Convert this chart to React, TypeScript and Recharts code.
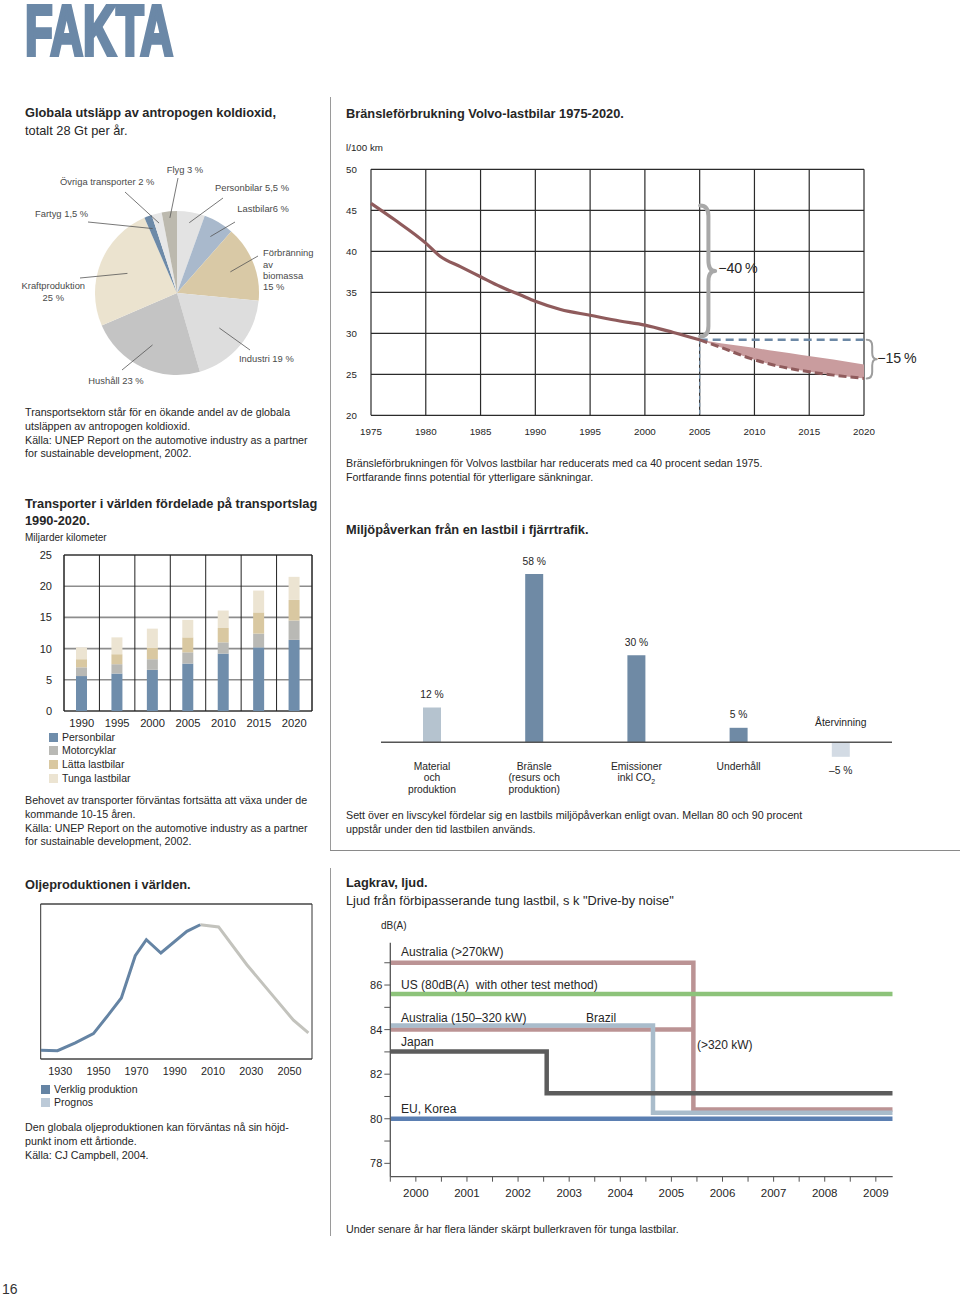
import React from "react"
import {
  PieChart, Pie, Cell, BarChart, Bar, XAxis, YAxis, CartesianGrid, ReferenceArea,
  ReferenceLine, ReferenceDot, LineChart, Line, ComposedChart, Area, LabelList,
} from "recharts"

const FONT = '"Liberation Sans", Arial, Helvetica, sans-serif'
const INK = "#262626"
const RADIAN = Math.PI / 180

// ---- Globala utsläpp av antropogen koldioxid (pie) ----
const pieNames = ["Personbilar", "Lastbilar", "Förbränning av biomassa", "Industri", "Hushåll", "Kraftproduktion", "Fartyg", "Övriga transporter", "Flyg"]
const pieValues = [5.5, 6, 15, 19, 23, 25, 1.5, 2, 3]
const pieColors = ["#e3e3e3", "#a9b9cc", "#d9c9a6", "#dddddd", "#c4c4c4", "#ebe3cf", "#6d8aa8", "#e7e7e7", "#bcb9ae"]
const pieLabelLines = [
  ["Personbilar 5,5 %"], ["Lastbilar6 %"], ["Förbränning", "av", "biomassa", "15 %"], ["Industri 19 %"],
  ["Hushåll 23 %"], ["Kraftproduktion", "25 %"], ["Fartyg 1,5 %"], ["Övriga transporter 2 %"], ["Flyg 3 %"],
]
// leader line: depth into slice (share of radius), outer end, text anchor
const pieLeaderDepth = [0.87, 0.8, 0.7, 0.67, 0.7, 0.65, 0.84, 0.88, 0.92]
const pieLeaderEnd = [[223, 48], [235, 72], [258, 106], [250, 200], [122, 220], [80, 128], [88, 72], [125, 42], [178, 28]]
const pieTextPos: [number, number, "start" | "middle"][] = [
  [215, 37.3, "start"], [237.3, 58.7, "start"], [263, 103, "start"], [239, 208.3, "start"], [88.3, 230.7, "start"],
  [53.3, 136, "middle"], [35, 63.3, "start"], [60, 31.7, "start"], [166.7, 20, "start"],
]

// ---- Transporter i världen ----
const transportYears = ["1990", "1995", "2000", "2005", "2010", "2015", "2020"]
const personbilar = [5.6, 6.0, 6.6, 7.6, 9.2, 10.2, 11.4]
const motorcyklar = [1.4, 1.5, 1.7, 1.8, 1.8, 2.2, 3.1]
const lattaLastbilar = [1.3, 1.6, 1.8, 2.4, 2.3, 3.4, 3.3]
const tungaLastbilar = [1.9, 2.7, 3.1, 2.8, 2.8, 3.5, 3.7]
const transportTicks = [0, 5, 10, 15, 20, 25]
const transportNames = ["Personbilar", "Motorcyklar", "Lätta lastbilar", "Tunga lastbilar"]
const transportColors = ["#6f8dab", "#b9b9b5", "#d9c8a1", "#ece4d2"]

// ---- Oljeproduktionen ----
const oilActualYears = [1919.8, 1928.6, 1937.9, 1947.4, 1955.3, 1962.0, 1969.3, 1975.1, 1982.7, 1996.3, 2003.3]
const oilActual = [0.28, 0.27, 0.52, 0.82, 1.43, 1.97, 3.33, 3.85, 3.42, 4.12, 4.33]
const oilPrognosYears = [2003.3, 2012.9, 2027.7, 2041.6, 2052.1, 2059.9]
const oilPrognos = [4.33, 4.26, 3.04, 2.02, 1.25, 0.84]
const oilTicks = [1930, 1950, 1970, 1990, 2010, 2030, 2050]

// ---- Bränsleförbrukning Volvo ----
const fuelYears = [1975, 1977.1, 1980, 1981.3, 1983.2, 1985, 1986.8, 1988.6, 1990, 1992.3, 1995, 1997.7, 2000, 2002.6, 2005]
const fuel = [45.85, 43.9, 41.0, 39.4, 38.1, 36.9, 35.7, 34.7, 33.9, 32.9, 32.2, 31.5, 31.0, 30.1, 29.2]
const fuelGoalYears = [2005, 2006.9, 2009.6, 2012, 2014.3, 2017.2, 2020]
const fuelGoal = [29.2, 28.3, 26.95, 26.05, 25.45, 24.9, 24.5]
const fuelGoalUpper = [29.2, 28.8, 28.3, 27.8, 27.35, 26.8, 26.2]
const fuelXTicks = [1975, 1980, 1985, 1990, 1995, 2000, 2005, 2010, 2015, 2020]
const fuelYTicks = [20, 25, 30, 35, 40, 45, 50]

// ---- Miljöpåverkan ----
const impactNames = ["Material och produktion", "Bränsle (resurs och produktion)", "Emissioner inkl CO2", "Underhåll", "Återvinning"]
const impactValues = [12, 58, 30, 5, -5]
const impactLabelLines = [["Material", "och", "produktion"], ["Bränsle", "(resurs och", "produktion)"], ["Emissioner", "inkl CO2"], ["Underhåll"], ["Återvinning"]]
const impactColors = ["#b5c3cf", "#6f8aa5", "#6f8aa5", "#6f8aa5", "#d3dbe4"]

// ---- Lagkrav, ljud ----
const ausHighYears = [1999.5, 2005.43, 2009.33]
const ausHigh = [87, 80.42, 80.42]
const ausMidYears = [1999.5, 2005.43]
const ausMid = [84, 84]
const brazilYears = [1999.5, 2004.64, 2009.33]
const brazil = [84.18, 80.27, 80.27]
const japanYears = [1999.5, 2002.56, 2009.33]
const japan = [83.02, 81.14, 81.14]
const usYears = [1999.5, 2009.33]
const us = [85.6, 85.6]
const euYears = [1999.5, 2009.33]
const eu = [80, 80]
const noiseXTicks = [1999.5, 2000, 2000.5, 2001, 2001.5, 2002, 2002.5, 2003, 2003.5, 2004, 2004.5, 2005, 2005.5, 2006, 2006.5, 2007, 2007.5, 2008, 2008.5, 2009]
const noiseYTicks = [78, 79, 80, 81, 82, 83, 84, 85, 86, 87]

const toRows = (xs: number[], ys: number[]) => xs.map((year, i) => ({ year, value: ys[i] }))

const Txt = ({ x, y, size = 10.7, lh = 13.7, bold = false, color = INK, lines }: { x: number; y: number; size?: number; lh?: number; bold?: boolean; color?: string; lines: string[] }) => (
  <div style={{ position: "absolute", left: x, top: y - lh / 2, fontSize: size, lineHeight: `${lh}px`, fontWeight: bold ? 700 : 400, color, whiteSpace: "pre", fontFamily: FONT }}>
    {lines.map((l, i) => <div key={i}>{l}</div>)}
  </div>
)

const Swatch = ({ x, y, color, label }: { x: number; y: number; color: string; label: string }) => (
  <>
    <div style={{ position: "absolute", left: x, top: y - 4.5, width: 9, height: 9, background: color }} />
    <Txt x={x + 13} y={y} size={10.5} lh={13} lines={[label]} />
  </>
)

const renderPieLabel = (props: any) => {
  const { cx, cy, midAngle, outerRadius, index } = props
  const depth = pieLeaderDepth[index]
  const px = cx + outerRadius * depth * Math.cos(-midAngle * RADIAN)
  const py = cy + outerRadius * depth * Math.sin(-midAngle * RADIAN)
  const [ex, ey] = pieLeaderEnd[index]
  const [tx, ty, anchor] = pieTextPos[index]
  return (
    <g key={`pl-${index}`}>
      <line x1={px} y1={py} x2={ex} y2={ey} stroke="#555" strokeWidth={0.8} />
      <text x={tx} y={ty} textAnchor={anchor} fontSize={9.4} fill="#4a4a4a" fontFamily={FONT}>
        {pieLabelLines[index].map((l, i) => (
          <tspan key={i} x={tx} dy={i === 0 ? "0.35em" : 11.3}>{l}</tspan>
        ))}
      </text>
    </g>
  )
}

const renderImpactLabel = (props: any) => {
  const { x, y, width, height, index } = props
  const v = impactValues[index]
  const cx = x + width / 2
  const yTop = Math.min(y, y + height)
  const yBot = Math.max(y, y + height)
  const fmt = v < 0 ? `–${Math.abs(v)} %` : `${v} %`
  const lines = impactLabelLines[index]
  const common = { textAnchor: "middle" as const, fontSize: 10.3, fill: INK, fontFamily: FONT }
  if (v < 0) {
    return (
      <g>
        <text x={cx} y={yTop - 20} dy="0.35em" {...common}>{lines[0]}</text>
        <text x={cx} y={yBot + 14} dy="0.35em" {...common}>{fmt}</text>
      </g>
    )
  }
  return (
    <g>
      <text x={cx} y={yTop - 13} dy="0.35em" {...common}>{fmt}</text>
      {lines.map((l, i) => (
        <text key={i} x={cx} y={yBot + 24 + i * 11.5} dy="0.35em" {...common}>
          {l.endsWith("CO2") ? (<>{l.slice(0, -1)}<tspan dy={3} fontSize={7}>2</tspan></>) : l}
        </text>
      ))}
    </g>
  )
}

const braceShape = (w: number, sw: number, color: string, dx: number, label: string, labelDx: number, labelDy: number) => (p: any) => {
  const x = Math.min(p.x1, p.x2) + dx
  const top = Math.min(p.y1, p.y2)
  const bot = Math.max(p.y1, p.y2)
  const mid = (top + bot) / 2
  const v = x + w * 0.55
  const r = Math.min(w * 0.7, (bot - top) / 6)
  const d = `M${x},${top} Q${v},${top} ${v},${top + r} L${v},${mid - r} Q${v},${mid} ${x + w},${mid} Q${v},${mid} ${v},${mid + r} L${v},${bot - r} Q${v},${bot} ${x},${bot}`
  return (
    <g>
      <path d={d} fill="none" stroke={color} strokeWidth={sw} strokeLinecap="round" strokeLinejoin="round" />
      <text x={x + w + labelDx} y={mid + labelDy} dy="0.35em" fontSize={14.2} fill={INK} fontFamily={FONT}>{label}</text>
    </g>
  )
}

const FuelYTick = ({ y, payload }: any) => (
  <text x={6} y={y} dy="0.35em" fontSize={9.7} fill={INK} fontFamily={FONT}>{payload.value}</text>
)

const noiseLabel = (value: string) => ({ value, position: "right" as const, offset: 0, fontSize: 12, fill: INK, fontFamily: FONT })

export default function App() {
  const pieData = pieNames.map((name, i) => ({ name, value: pieValues[i] }))
  const transportData = transportYears.map((year, i) => ({
    year, personbilar: personbilar[i], motorcyklar: motorcyklar[i], latta: lattaLastbilar[i], tunga: tungaLastbilar[i],
  }))
  const impactData = impactNames.map((name, i) => ({ name, value: impactValues[i] }))
  const fuelData = toRows(fuelYears, fuel)
  const goalData = toRows(fuelGoalYears, fuelGoal)
  const bandData = fuelGoalYears.map((year, i) => ({ year, band: [fuelGoal[i], fuelGoalUpper[i]] }))
  const axisText = { fontSize: 11, fill: INK, fontFamily: FONT }

  return (
    <div style={{ position: "absolute", left: 0, top: 0, width: 960, height: 1296, background: "#fff", overflow: "hidden", fontFamily: FONT }}>
      {/* header */}
      <div style={{ position: "absolute", left: 25, top: 0, fontSize: 71, lineHeight: "62px", fontWeight: 700, color: "#6b88a7", WebkitTextStroke: "4px #6b88a7", transform: "scaleX(0.64)", transformOrigin: "0 0", whiteSpace: "pre" }}>FAKTA</div>

      {/* dividers */}
      <div style={{ position: "absolute", left: 330, top: 97, width: 1, height: 753, background: "#9a9a9a" }} />
      <div style={{ position: "absolute", left: 330, top: 850, width: 630, height: 1, background: "#8a8a8a" }} />
      <div style={{ position: "absolute", left: 330, top: 868, width: 1, height: 368, background: "#9a9a9a" }} />

      {/* pie */}
      <Txt x={25} y={113} size={12.8} lh={18} bold lines={["Globala utsläpp av antropogen koldioxid,"]} />
      <Txt x={25} y={131} size={12.8} lh={18} lines={["totalt 28 Gt per år."]} />
      <div style={{ position: "absolute", left: 0, top: 150 }}>
        <PieChart width={330} height={240} margin={{ top: 0, right: 0, bottom: 0, left: 0 }}>
          <Pie data={pieData} dataKey="value" cx={177} cy={143} outerRadius={82} startAngle={90} endAngle={-270}
            stroke="none" isAnimationActive={false} label={renderPieLabel} labelLine={false}>
            {pieData.map((d, i) => <Cell key={d.name} fill={pieColors[i]} />)}
          </Pie>
        </PieChart>
      </div>
      <Txt x={25} y={413} lines={[
        "Transportsektorn står för en ökande andel av de globala",
        "utsläppen av antropogen koldioxid.",
        "Källa: UNEP Report on the automotive industry as a partner",
        "for sustainable development, 2002.",
      ]} />

      {/* transport bars */}
      <Txt x={25} y={503} size={12.8} lh={17} bold lines={["Transporter i världen fördelade på transportslag", "1990-2020."]} />
      <Txt x={25} y={538} size={10} lines={["Miljarder kilometer"]} />
      <div style={{ position: "absolute", left: 20, top: 545 }}>
        <BarChart width={300} height={190} data={transportData} margin={{ top: 10, right: 8, bottom: 4, left: 4 }} barSize={11}>
          <CartesianGrid vertical={false} stroke="#8d8d8d" strokeWidth={1.6} />
          <CartesianGrid horizontal={false} stroke="#222" strokeWidth={1}
            verticalCoordinatesGenerator={({ offset }: any) => transportYears.concat("").map((_, i) => offset.left + (i * offset.width) / transportYears.length)} />
          <XAxis dataKey="year" tickLine={false} axisLine={false} height={20} interval={0} tick={{ ...axisText, fontSize: 11.2 }} />
          <YAxis width={40} domain={[0, 25]} ticks={transportTicks} tickLine={false} axisLine={false} tickMargin={6} tick={axisText} interval={0} />
          <Bar dataKey="personbilar" stackId="t" fill={transportColors[0]} isAnimationActive={false} />
          <Bar dataKey="motorcyklar" stackId="t" fill={transportColors[1]} isAnimationActive={false} />
          <Bar dataKey="latta" stackId="t" fill={transportColors[2]} isAnimationActive={false} />
          <Bar dataKey="tunga" stackId="t" fill={transportColors[3]} isAnimationActive={false} />
          <ReferenceArea y1={0} y2={25} fill="none" stroke="#222" strokeWidth={1} ifOverflow="visible" />
        </BarChart>
      </div>
      {transportNames.map((n, i) => <Swatch key={n} x={49} y={737 + i * 13.8} color={transportColors[i]} label={n} />)}
      <Txt x={25} y={801} lines={[
        "Behovet av transporter förväntas fortsätta att växa under de",
        "kommande 10-15 åren.",
        "Källa: UNEP Report on the automotive industry as a partner",
        "for sustainable development, 2002.",
      ]} />

      {/* oil */}
      <Txt x={25} y={884} size={12.8} lh={17} bold lines={["Oljeproduktionen i världen."]} />
      <div style={{ position: "absolute", left: 20, top: 895 }}>
        <LineChart width={300} height={190} margin={{ top: 9, right: 8, bottom: 6, left: 20.7 }}>
          <CartesianGrid vertical={false} stroke="#9a9a9a" strokeWidth={1.6} />
          <XAxis type="number" dataKey="year" domain={[1919.8, 2061.8]} ticks={oilTicks} interval={0} tickLine={false} axisLine={false}
            height={20} tick={{ ...axisText, fontSize: 10.8 }} allowDataOverflow />
          <YAxis width={0} domain={[0, 5]} ticks={[0, 1, 2, 3, 4, 5]} tick={false} axisLine={false} tickLine={false} />
          <Line data={toRows(oilPrognosYears, oilPrognos)} dataKey="value" type="linear" stroke="#c3c3bd" strokeWidth={3} dot={false} isAnimationActive={false} />
          <Line data={toRows(oilActualYears, oilActual)} dataKey="value" type="linear" stroke="#6584a4" strokeWidth={3} dot={false} isAnimationActive={false} />
          <ReferenceArea y1={0} y2={5} fill="none" stroke="#333" strokeWidth={1} ifOverflow="visible" />
        </LineChart>
      </div>
      <Swatch x={41} y={1089} color="#6584a4" label="Verklig produktion" />
      <Swatch x={41} y={1102} color="#bccad8" label="Prognos" />
      <Txt x={25} y={1128} lines={[
        "Den globala oljeproduktionen kan förväntas nå sin höjd-",
        "punkt inom ett årtionde.",
        "Källa: CJ Campbell, 2004.",
      ]} />

      {/* fuel consumption */}
      <Txt x={346} y={113} size={12.8} lh={17} bold lines={["Bränsleförbrukning Volvo-lastbilar 1975-2020."]} />
      <Txt x={346} y={148} size={9.8} lines={["l/100 km"]} />
      <div style={{ position: "absolute", left: 340, top: 140 }}>
        <ComposedChart width={590} height={310} margin={{ top: 29.3, right: 66, bottom: 4.7, left: 6 }}>
          <CartesianGrid stroke="#2b2b2b" strokeWidth={1.2} />
          <XAxis type="number" dataKey="year" domain={[1975, 2020]} ticks={fuelXTicks} interval={0} tickLine={false} axisLine={false}
            height={30} tickMargin={7} tick={{ ...axisText, fontSize: 9.8 }} />
          <YAxis width={25} domain={[20, 50]} ticks={fuelYTicks} interval={0} tickLine={false} axisLine={false} tick={<FuelYTick />} />
          <Area data={bandData} dataKey="band" type="monotone" fill="#c99c9e" fillOpacity={1} stroke="none" isAnimationActive={false} />
          <ReferenceLine segment={[{ x: 2005, y: 29.2 }, { x: 2005, y: 20 }]} stroke="#7d96ae" strokeWidth={1.3} strokeDasharray="4 3" />
          <ReferenceLine segment={[{ x: 2005, y: 29.2 }, { x: 2020, y: 29.2 }]} stroke="#6d89a6" strokeWidth={2.5} strokeDasharray="8 5" />
          <Line data={goalData} dataKey="value" type="monotone" stroke="#8f5b5c" strokeWidth={3} strokeDasharray="8 4" dot={false} isAnimationActive={false} />
          <Line data={fuelData} dataKey="value" type="monotone" stroke="#8f5b5c" strokeWidth={3.2} dot={false} isAnimationActive={false} />
          <ReferenceLine segment={[{ x: 2005, y: 45.6 }, { x: 2005, y: 29.6 }]} shape={braceShape(15, 4, "#a8a8a8", 0.5, "−40\u2009%", 3, -3)} />
          <ReferenceLine segment={[{ x: 2020, y: 29.2 }, { x: 2020, y: 24.5 }]} shape={braceShape(10, 2, "#9d9d9d", 2.7, "−15\u2009%", 0.5, -1.5)} />
        </ComposedChart>
      </div>
      <Txt x={346} y={464} lines={[
        "Bränsleförbrukningen för Volvos lastbilar har reducerats med ca 40 procent sedan 1975.",
        "Fortfarande finns potential för ytterligare sänkningar.",
      ]} />

      {/* environmental impact */}
      <Txt x={346} y={529} size={12.8} lh={17} bold lines={["Miljöpåverkan från en lastbil i fjärrtrafik."]} />
      <div style={{ position: "absolute", left: 340, top: 545 }}>
        <BarChart width={560} height={260} data={impactData} margin={{ top: 23.3, right: 8, bottom: 33.7, left: 41 }} barSize={18}>
          <XAxis dataKey="name" hide />
          <YAxis hide domain={[-10, 60]} />
          <ReferenceLine y={0} stroke="#555" strokeWidth={1.5} />
          <Bar dataKey="value" isAnimationActive={false}>
            {impactData.map((d, i) => <Cell key={d.name} fill={impactColors[i]} />)}
            <LabelList dataKey="value" content={renderImpactLabel} />
          </Bar>
        </BarChart>
      </div>
      <Txt x={346} y={816} lines={[
        "Sett över en livscykel fördelar sig en lastbils miljöpåverkan enligt ovan. Mellan 80 och 90 procent",
        "uppstår under den tid lastbilen används.",
      ]} />

      {/* noise */}
      <Txt x={346} y={882} size={12.8} lh={17} bold lines={["Lagkrav, ljud."]} />
      <Txt x={346} y={900} size={12.8} lh={17} lines={["Ljud från förbipasserande tung lastbil, s k \"Drive-by noise\""]} />
      <Txt x={381} y={926} size={10} lines={["dB(A)"]} />
      <div style={{ position: "absolute", left: 340, top: 935 }}>
        <LineChart width={570} height={270} margin={{ top: 7.7, right: 17.3, bottom: 8.3, left: 10.3 }}>
          <XAxis type="number" dataKey="year" domain={[1999.5, 2009.33]} ticks={noiseXTicks} interval={0} allowDataOverflow
            tickFormatter={(v: number) => (Number.isInteger(v) ? String(v) : "")} tickSize={5} tickMargin={7} height={20}
            axisLine={{ stroke: "#555", strokeWidth: 1.3 }} tickLine={{ stroke: "#555" }} tick={{ ...axisText, fontSize: 11.5 }} />
          <YAxis width={40} domain={[77.4, 87.9]} ticks={noiseYTicks} interval={0} allowDataOverflow
            tickFormatter={(v: number) => (v % 2 === 0 ? String(v) : "")} tickSize={6} tickMargin={2}
            axisLine={{ stroke: "#555", strokeWidth: 1.3 }} tickLine={{ stroke: "#555" }} tick={axisText} />
          <Line data={toRows(ausHighYears, ausHigh)} dataKey="value" type="stepAfter" stroke="#bb9394" strokeWidth={4.5} dot={false} isAnimationActive={false} />
          <Line data={toRows(ausMidYears, ausMid)} dataKey="value" type="linear" stroke="#bb9394" strokeWidth={4.5} dot={false} isAnimationActive={false} />
          <Line data={toRows(brazilYears, brazil)} dataKey="value" type="stepAfter" stroke="#a9bccb" strokeWidth={4.5} dot={false} isAnimationActive={false} />
          <Line data={toRows(japanYears, japan)} dataKey="value" type="stepAfter" stroke="#5c5c5c" strokeWidth={4.5} dot={false} isAnimationActive={false} />
          <Line data={toRows(usYears, us)} dataKey="value" type="linear" stroke="#8dc37a" strokeWidth={4.5} dot={false} isAnimationActive={false} />
          <Line data={toRows(euYears, eu)} dataKey="value" type="linear" stroke="#5b7fb2" strokeWidth={4.5} dot={false} isAnimationActive={false} />
          <ReferenceDot x={1999.71} y={87.48} r={0} fill="none" stroke="none" label={noiseLabel("Australia (>270kW)")} />
          <ReferenceDot x={1999.71} y={86.02} r={0} fill="none" stroke="none" label={noiseLabel("US (80dB(A)\u00a0 with other test method)")} />
          <ReferenceDot x={1999.71} y={84.55} r={0} fill="none" stroke="none" label={noiseLabel("Australia (150–320 kW)")} />
          <ReferenceDot x={2003.33} y={84.55} r={0} fill="none" stroke="none" label={noiseLabel("Brazil")} />
          <ReferenceDot x={1999.71} y={83.47} r={0} fill="none" stroke="none" label={noiseLabel("Japan")} />
          <ReferenceDot x={2005.5} y={83.3} r={0} fill="none" stroke="none" label={noiseLabel("(>320 kW)")} />
          <ReferenceDot x={1999.71} y={80.45} r={0} fill="none" stroke="none" label={noiseLabel("EU, Korea")} />
        </LineChart>
      </div>
      <Txt x={346} y={1230} lines={["Under senare år har flera länder skärpt bullerkraven för tunga lastbilar."]} />

      <Txt x={2} y={1289} size={14} lh={16} color="#333" lines={["16"]} />
    </div>
  )
}
